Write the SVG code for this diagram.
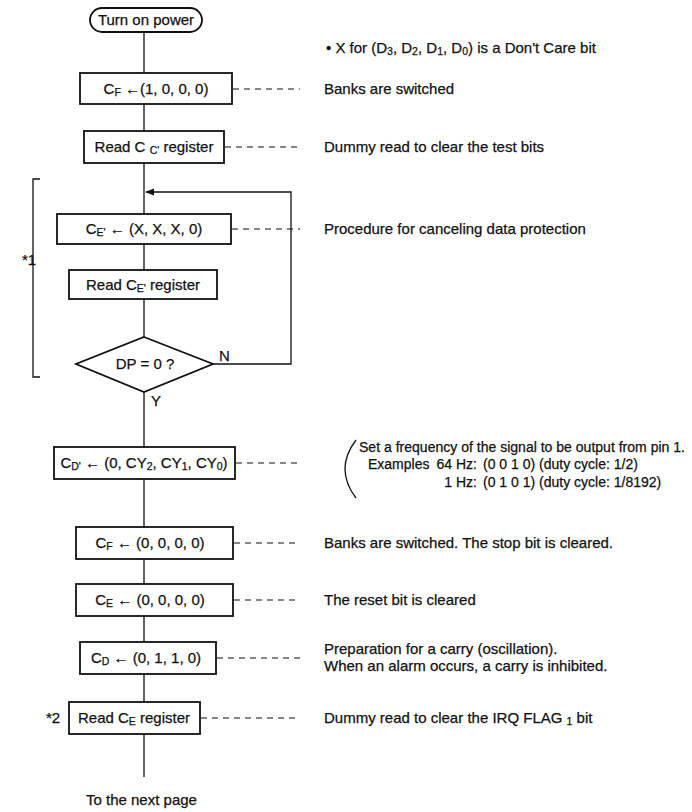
<svg xmlns="http://www.w3.org/2000/svg" width="692" height="812" viewBox="0 0 692 812">
<defs>
<style>
text{font-family:"Liberation Sans",Arial,sans-serif;font-size:15px;fill:#111;stroke:#111;stroke-width:0.25;}
.b{fill:#fff;stroke:#111;stroke-width:1.8;}
.l{stroke:#111;stroke-width:1.3;fill:none;}
.d{stroke:#111;stroke-width:1.2;stroke-dasharray:6,5;fill:none;}
.c{text-anchor:middle;}
.s{font-size:10.5px;}
.p{font-size:14px;}
</style>
<marker id="ah" viewBox="0 0 10 10" refX="9" refY="5" markerWidth="9" markerHeight="9" orient="auto" markerUnits="userSpaceOnUse"><path d="M0,1 L10,5 L0,9 z" fill="#111"/></marker>
</defs>
<rect width="692" height="812" fill="#fff"/>
<g id="connectors">
<line class="l" x1="144" y1="32" x2="144" y2="73"/>
<line class="l" x1="144" y1="104" x2="144" y2="131"/>
<line class="l" x1="144" y1="163" x2="144" y2="214"/>
<polyline class="l" points="213,364 291,364 291,192 146,192" marker-end="url(#ah)"/>
<line class="l" x1="144" y1="244" x2="144" y2="270"/>
<line class="l" x1="144" y1="299" x2="144" y2="337"/>
<line class="l" x1="144" y1="392" x2="144" y2="447"/>
<line class="l" x1="144" y1="479" x2="144" y2="527"/>
<line class="l" x1="144" y1="559" x2="144" y2="584"/>
<line class="l" x1="144" y1="616" x2="144" y2="642"/>
<line class="l" x1="144" y1="674" x2="144" y2="702"/>
<line class="l" x1="144" y1="734" x2="144" y2="777"/>
<line class="d" x1="233" y1="89" x2="300" y2="89"/>
<line class="d" x1="225" y1="147" x2="300" y2="147"/>
<line class="d" x1="232" y1="229" x2="300" y2="229"/>
<line class="d" x1="236" y1="463" x2="300" y2="463"/>
<line class="d" x1="234" y1="543" x2="300" y2="543"/>
<line class="d" x1="234" y1="600" x2="300" y2="600"/>
<line class="d" x1="217" y1="658" x2="300" y2="658"/>
<line class="d" x1="201" y1="718" x2="300" y2="718"/>
<polyline class="l" points="40,179 33,179 33,377 40,377"/>
<path class="l" d="M356,440 Q334,469 356,498"/>
</g>
<g id="start"><rect class="b" x="90" y="8" width="112" height="24" rx="12"/><text class="c" x="146" y="25">Turn on power</text></g>
<g id="n1"><rect class="b" x="80" y="73" width="152" height="31"/><text class="c" x="156" y="94">C<tspan class="s" dy="2">F</tspan><tspan dy="-2"> ←(1, 0, 0, 0)</tspan></text></g>
<g id="n2"><rect class="b" x="84" y="131" width="140" height="32"/><text class="c" x="154" y="152">Read C <tspan class="s" dy="2">C'</tspan><tspan dy="-2"> register</tspan></text></g>
<g id="n3"><rect class="b" x="57" y="214" width="174" height="30"/><text class="c" x="144" y="234">C<tspan class="s" dy="2">E'</tspan><tspan dy="-2"> ← (X, X, X, 0)</tspan></text></g>
<g id="n4"><rect class="b" x="69" y="270" width="148" height="29"/><text class="c" x="143" y="290">Read C<tspan class="s" dy="2">E'</tspan><tspan dy="-2"> register</tspan></text></g>
<g id="n5"><polygon class="b" points="144,337 213,364 144,392 76,364"/><text class="c" x="145" y="369">DP = 0 ?</text></g>
<g id="n6"><rect class="b" x="54" y="447" width="181" height="32"/><text class="c" x="144" y="468">C<tspan class="s" dy="2">D'</tspan><tspan dy="-2"> ← (0, CY</tspan><tspan class="s" dy="2">2</tspan><tspan dy="-2">, CY</tspan><tspan class="s" dy="2">1</tspan><tspan dy="-2">, CY</tspan><tspan class="s" dy="2">0</tspan><tspan dy="-2">)</tspan></text></g>
<g id="n7"><rect class="b" x="76" y="527" width="157" height="32"/><text class="c" x="150" y="548">C<tspan class="s" dy="2">F</tspan><tspan dy="-2"> ← (0, 0, 0, 0)</tspan></text></g>
<g id="n8"><rect class="b" x="76" y="584" width="157" height="32"/><text class="c" x="150" y="605">C<tspan class="s" dy="2">E</tspan><tspan dy="-2"> ← (0, 0, 0, 0)</tspan></text></g>
<g id="n9"><rect class="b" x="80" y="642" width="136" height="32"/><text class="c" x="146" y="663">C<tspan class="s" dy="2">D</tspan><tspan dy="-2"> ← (0, 1, 1, 0)</tspan></text></g>
<g id="n10"><rect class="b" x="69" y="702" width="131" height="32"/><text class="c" x="134" y="723">Read C<tspan class="s" dy="2">E</tspan><tspan dy="-2"> register</tspan></text></g>
<g id="labels">
<text x="219" y="361">N</text>
<text x="151" y="406">Y</text>
<text x="22" y="265">*1</text>
<text x="46" y="723">*2</text>
<text x="86" y="805">To the next page</text>
<text x="326" y="53">•  X for (D<tspan class="s" dy="2">3</tspan><tspan dy="-2">, D</tspan><tspan class="s" dy="2">2</tspan><tspan dy="-2">, D</tspan><tspan class="s" dy="2">1</tspan><tspan dy="-2">, D</tspan><tspan class="s" dy="2">0</tspan><tspan dy="-2">) is a Don't Care bit</tspan></text>
<text x="324" y="94">Banks are switched</text>
<text x="324" y="152">Dummy read to clear the test bits</text>
<text x="324" y="234">Procedure for canceling data protection</text>
<text class="p" x="359" y="452" textLength="326" lengthAdjust="spacingAndGlyphs">Set a frequency of the signal to be output from pin 1.</text>
<text class="p" x="368" y="469">Examples</text>
<text class="p" x="477" y="469" text-anchor="end">64 Hz:</text>
<text class="p" x="483" y="469">(0 0 1 0) (duty cycle:  1/2)</text>
<text class="p" x="477" y="487" text-anchor="end">1 Hz:</text>
<text class="p" x="483" y="487">(0 1 0 1) (duty cycle:  1/8192)</text>
<text x="324" y="548">Banks are switched.  The stop bit is cleared.</text>
<text x="324" y="605">The reset bit is cleared</text>
<text x="324" y="654">Preparation for a carry (oscillation).</text>
<text x="324" y="671">When an alarm occurs, a carry is inhibited.</text>
<text x="324" y="723">Dummy read to clear the IRQ FLAG <tspan class="s" dy="2">1</tspan><tspan dy="-2"> bit</tspan></text>
</g>
</svg>
